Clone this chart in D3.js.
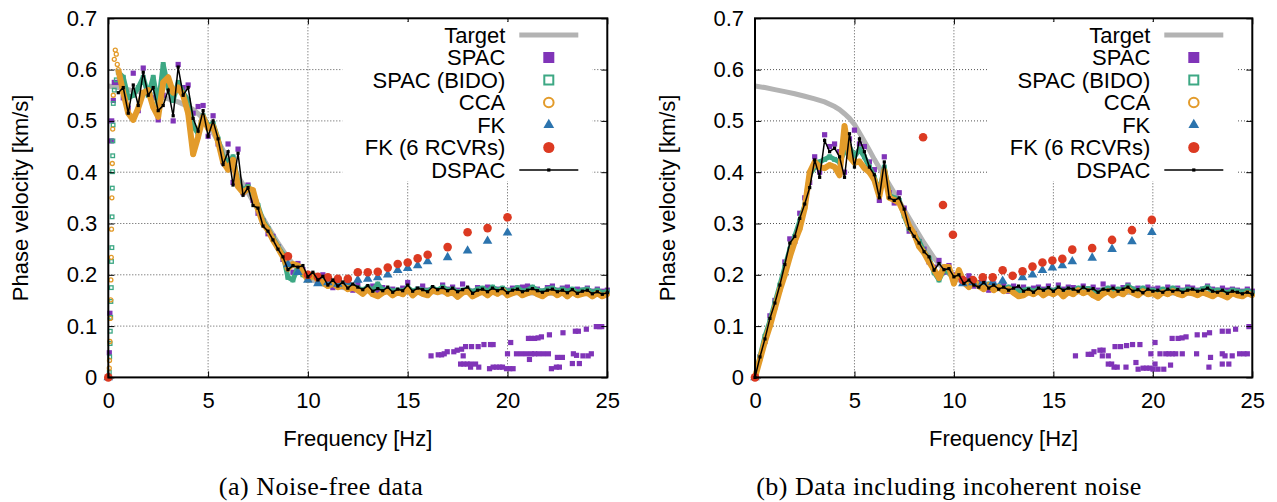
<!DOCTYPE html>
<html>
<head>
<meta charset="utf-8">
<script src="https://cdn.jsdelivr.net/npm/d3@7"></script>
<style>
  body { margin: 0; background: #fff; }
  svg { display: block; }
</style>
</head>
<body>
<svg id="chart" width="1277" height="502"></svg>
<script>
// frequency grid shared by the dense series [Hz]
const freqs = [
  0.5, 0.75, 1, 1.25, 1.5, 1.75, 2, 2.25, 2.5, 2.75,
  3, 3.25, 3.5, 3.75, 4, 4.25, 4.5, 4.75, 5, 5.25,
  5.5, 5.75, 6, 6.25, 6.5, 6.75, 7, 7.25, 7.5, 7.75,
  8, 8.25, 8.5, 8.75, 9, 9.25, 9.5, 9.75, 10, 10.25,
  10.5, 10.75, 11, 11.25, 11.5, 11.75, 12, 12.25, 12.5, 12.75,
  13, 13.25, 13.5, 13.75, 14, 14.25, 14.5, 14.75, 15, 15.25,
  15.5, 15.75, 16, 16.25, 16.5, 16.75, 17, 17.25, 17.5, 17.75,
  18, 18.25, 18.5, 18.75, 19, 19.25, 19.5, 19.75, 20, 20.25,
  20.5, 20.75, 21, 21.25, 21.5, 21.75, 22, 22.25, 22.5, 22.75,
  23, 23.25, 23.5, 23.75, 24, 24.25, 24.5, 24.75, 25
];

const xTicks = [0, 5, 10, 15, 20, 25];
const yTicks = [0, 0.1, 0.2, 0.3, 0.4, 0.5, 0.6, 0.7];
const legendLabels = ["Target", "SPAC", "SPAC (BIDO)", "CCA", "FK", "FK (6 RCVRs)", "DSPAC"];

// target dispersion curve (same in both panels)
const targetFreq = [0, 0.5, 1, 1.5, 2, 2.5, 3, 3.5, 4, 4.25, 4.5, 4.75, 5, 5.25, 5.5, 5.75, 6, 6.5, 7, 7.5,
  8, 8.5, 9, 9.5, 10, 10.5, 11, 12, 13, 14, 16, 18, 20, 22, 25];
const targetVel = [0.568, 0.565, 0.561, 0.557, 0.553, 0.548, 0.543, 0.537, 0.528, 0.522, 0.514, 0.505, 0.493,
  0.477, 0.46, 0.443, 0.425, 0.392, 0.36, 0.327, 0.294, 0.262, 0.233, 0.21, 0.195, 0.185, 0.179, 0.174, 0.171,
  0.169, 0.167, 0.166, 0.165, 0.164, 0.163];

// ---- (a) noise-free ----
const spacA = [
  0.575, 0.545, 0.525, 0.593, 0.52, 0.603, 0.56, 0.545, 0.502, 0.55,
  0.575, 0.50, 0.61, 0.565, 0.57, 0.515, 0.528, 0.53, 0.47, 0.51,
  0.455, 0.42, 0.455, 0.38, 0.445, 0.36, 0.375, 0.345, 0.32, 0.305,
  0.28, 0.275, 0.255, 0.23, 0.218, 0.205, 0.222, 0.21, 0.2, 0.198,
  0.185, 0.2, 0.185, 0.175, 0.19, 0.178, 0.18, 0.17, 0.182, 0.168,
  0.175, 0.178, 0.165, 0.175, 0.17, 0.172, 0.168, 0.174, 0.185, 0.165,
  0.172, 0.178, 0.17, 0.172, 0.168, 0.18, 0.172, 0.176, 0.17, 0.182,
  0.17, 0.168, 0.175, 0.17, 0.176, 0.17, 0.172, 0.168, 0.17, 0.174,
  0.168, 0.176, 0.178, 0.17, 0.172, 0.168, 0.175, 0.178, 0.17, 0.174,
  0.176, 0.168, 0.172, 0.17, 0.174, 0.168, 0.172, 0.168, 0.17
];
const bidoA = [
  0.595, 0.585, 0.545, 0.55, 0.565, 0.585, 0.55, 0.585, 0.53, 0.61,
  0.565, 0.54, 0.575, 0.555, 0.54, 0.49, 0.475, 0.51, 0.49, 0.495,
  0.465, 0.43, 0.42, 0.43, 0.38, 0.365, 0.372, 0.36, 0.335, 0.305,
  0.29, 0.272, 0.255, 0.24, 0.195, 0.19, 0.215, 0.2, 0.195, 0.2,
  0.192, 0.188, 0.182, 0.185, 0.18, 0.182, 0.176, 0.178, 0.174, 0.17,
  0.176, 0.17, 0.182, 0.17, 0.172, 0.168, 0.17, 0.168, 0.175, 0.168,
  0.172, 0.17, 0.168, 0.174, 0.17, 0.176, 0.17, 0.172, 0.166, 0.17,
  0.172, 0.167, 0.172, 0.174, 0.168, 0.176, 0.17, 0.174, 0.168, 0.17,
  0.175, 0.168, 0.17, 0.176, 0.17, 0.168, 0.172, 0.174, 0.168, 0.172,
  0.168, 0.172, 0.166, 0.17, 0.172, 0.166, 0.17, 0.165, 0.167
];
const ccaA = [
  0.60, 0.555, 0.515, 0.502, 0.525, 0.555, 0.56, 0.527, 0.508, 0.575,
  0.585, 0.555, 0.565, 0.55, 0.515, 0.435, 0.469, 0.508, 0.485, 0.49,
  0.46, 0.42, 0.405, 0.424, 0.372, 0.36, 0.368, 0.365, 0.328, 0.30,
  0.287, 0.268, 0.252, 0.235, 0.212, 0.221, 0.218, 0.205, 0.19, 0.2,
  0.19, 0.185, 0.178, 0.183, 0.176, 0.18, 0.172, 0.175, 0.17, 0.163,
  0.172, 0.162, 0.158, 0.165, 0.168, 0.16, 0.166, 0.162, 0.172, 0.16,
  0.168, 0.163, 0.16, 0.17, 0.166, 0.17, 0.163, 0.166, 0.157, 0.165,
  0.168, 0.158, 0.163, 0.167, 0.16, 0.168, 0.163, 0.17, 0.16, 0.164,
  0.168, 0.16, 0.164, 0.168, 0.162, 0.158, 0.165, 0.167, 0.16, 0.166,
  0.158, 0.166, 0.16, 0.163, 0.165, 0.158, 0.164, 0.158, 0.162
];
const dspacA = [
  0.555, 0.565, 0.515, 0.57, 0.53, 0.595, 0.55, 0.565, 0.52, 0.53,
  0.56, 0.51, 0.605, 0.55, 0.565, 0.505, 0.48, 0.52, 0.47, 0.50,
  0.465, 0.415, 0.44, 0.375, 0.437, 0.355, 0.37, 0.335, 0.33, 0.295,
  0.285, 0.268, 0.25, 0.235, 0.21, 0.218, 0.215, 0.218, 0.196, 0.205,
  0.19, 0.197, 0.18, 0.19, 0.178, 0.186, 0.174, 0.182, 0.176, 0.171,
  0.179, 0.168, 0.173, 0.169, 0.176, 0.166, 0.172, 0.169, 0.18, 0.168,
  0.174, 0.171, 0.167, 0.177, 0.171, 0.175, 0.169, 0.174, 0.167, 0.171,
  0.176, 0.164, 0.17, 0.172, 0.167, 0.174, 0.169, 0.173, 0.165, 0.17,
  0.172, 0.167, 0.17, 0.173, 0.169, 0.166, 0.17, 0.172, 0.167, 0.17,
  0.165, 0.171, 0.164, 0.168, 0.17, 0.163, 0.167, 0.162, 0.165
];
// low-frequency column of scattered estimates next to the axis [f, v]
const spacLowA = [[0.05, 0.048], [0.08, 0.125], [0.15, 0.461], [0.17, 0.5], [0.25, 0.54], [0.3, 0.575]];
const bidoLowA = [[0.05, 0.01], [0.07, 0.04], [0.09, 0.066], [0.1, 0.09], [0.12, 0.117], [0.13, 0.148],
  [0.15, 0.175], [0.16, 0.226], [0.18, 0.253], [0.19, 0.313], [0.2, 0.369], [0.21, 0.401], [0.22, 0.432],
  [0.23, 0.461], [0.24, 0.492], [0.25, 0.534], [0.3, 0.56], [0.4, 0.58]];
const ccaLowA = [[0.05, 0.018], [0.06, 0.033], [0.08, 0.07], [0.1, 0.115], [0.12, 0.151], [0.13, 0.19],
  [0.15, 0.234], [0.16, 0.289], [0.18, 0.35], [0.2, 0.417], [0.22, 0.484], [0.25, 0.55], [0.3, 0.62],
  [0.35, 0.638], [0.4, 0.63], [0.45, 0.61]];
const spacOutA = [
  [16.17, 0.042], [16.53, 0.044], [16.7, 0.044], [16.83, 0.046], [16.98, 0.05], [17.31, 0.05], [17.48, 0.053],
  [17.7, 0.055], [17.78, 0.042], [17.65, 0.026], [17.81, 0.026], [17.98, 0.026], [18.15, 0.026], [18.15, 0.02],
  [17.9, 0.06], [18.2, 0.06], [18.53, 0.06], [18.4, 0.026], [18.56, 0.02], [18.82, 0.064], [19.15, 0.064],
  [19.28, 0.064], [19.1, 0.017], [19.28, 0.02], [19.45, 0.02], [19.61, 0.02], [19.75, 0.02], [19.95, 0.017],
  [20.11, 0.017], [20.28, 0.017], [20.0, 0.046], [20.45, 0.046], [20.7, 0.046], [20.95, 0.046], [21.2, 0.046],
  [21.36, 0.046], [21.56, 0.046], [20.16, 0.068], [21.05, 0.076], [21.2, 0.076], [21.36, 0.076], [21.53, 0.077],
  [21.7, 0.079], [21.1, 0.035], [21.8, 0.046], [22.1, 0.083], [22.05, 0.046], [22.2, 0.017], [22.45, 0.02],
  [22.6, 0.02], [22.5, 0.039], [22.75, 0.039], [22.78, 0.087], [23.25, 0.027], [23.6, 0.027], [23.3, 0.046],
  [23.46, 0.043], [23.4, 0.09], [23.55, 0.09], [23.78, 0.042], [24.04, 0.042], [24.2, 0.046], [23.95, 0.094],
  [24.45, 0.099], [24.62, 0.099], [24.72, 0.099]
];
const fkFreqA = [0, 9, 9.5, 10, 10.5, 11, 11.5, 12, 12.5, 13, 13.5, 14, 14.5, 15, 15.5, 16, 17, 18, 19, 20];
const fkA = [0, 0.22, 0.205, 0.19, 0.183, 0.185, 0.182, 0.186, 0.19, 0.192, 0.195, 0.2, 0.209, 0.213, 0.218,
  0.226, 0.234, 0.247, 0.266, 0.282];
const fk6FreqA = [0, 9, 10, 10.5, 11, 11.5, 12, 12.5, 13, 13.5, 14, 14.5, 15, 15.5, 16, 17, 18, 19, 20];
const fk6A = [0, 0.236, 0.2, 0.196, 0.195, 0.192, 0.192, 0.205, 0.205, 0.206, 0.214, 0.221, 0.224, 0.232,
  0.239, 0.254, 0.283, 0.291, 0.312];

// ---- (b) with incoherent noise ----
const spacB = [
  0.07, 0.12, 0.15, 0.175, 0.225, 0.27, 0.265, 0.32, 0.35, 0.38,
  0.43, 0.40, 0.473, 0.45, 0.455, 0.44, 0.40, 0.465, 0.482, 0.455,
  0.45, 0.42, 0.405, 0.345, 0.43, 0.36, 0.34, 0.36, 0.33, 0.285,
  0.28, 0.265, 0.25, 0.225, 0.215, 0.228, 0.205, 0.218, 0.2, 0.195,
  0.19, 0.198, 0.178, 0.185, 0.188, 0.17, 0.182, 0.176, 0.18, 0.168,
  0.178, 0.172, 0.176, 0.17, 0.174, 0.176, 0.172, 0.178, 0.17, 0.18,
  0.172, 0.176, 0.175, 0.17, 0.178, 0.172, 0.176, 0.17, 0.182, 0.172,
  0.176, 0.17, 0.175, 0.18, 0.172, 0.174, 0.17, 0.176, 0.172, 0.174,
  0.17, 0.176, 0.17, 0.174, 0.17, 0.176, 0.174, 0.17, 0.172, 0.178,
  0.172, 0.17, 0.174, 0.17, 0.172, 0.17, 0.168, 0.172, 0.168
];
const bidoB = [
  0.08, 0.11, 0.145, 0.18, 0.215, 0.25, 0.275, 0.305, 0.335, 0.395,
  0.41, 0.42, 0.425, 0.43, 0.425, 0.42, 0.44, 0.45, 0.43, 0.445,
  0.43, 0.41, 0.39, 0.36, 0.41, 0.355, 0.35, 0.345, 0.315, 0.29,
  0.28, 0.265, 0.245, 0.232, 0.205, 0.19, 0.21, 0.205, 0.19, 0.205,
  0.19, 0.182, 0.188, 0.18, 0.176, 0.182, 0.174, 0.178, 0.172, 0.176,
  0.17, 0.168, 0.17, 0.172, 0.168, 0.172, 0.168, 0.172, 0.168, 0.174,
  0.166, 0.172, 0.168, 0.174, 0.17, 0.173, 0.168, 0.165, 0.17, 0.174,
  0.168, 0.172, 0.17, 0.178, 0.172, 0.168, 0.174, 0.168, 0.17, 0.166,
  0.172, 0.168, 0.174, 0.17, 0.168, 0.172, 0.17, 0.168, 0.172, 0.176,
  0.168, 0.17, 0.168, 0.165, 0.17, 0.168, 0.166, 0.169, 0.165
];
const ccaB = [
  0.07, 0.1, 0.135, 0.17, 0.2, 0.235, 0.265, 0.29, 0.33, 0.40,
  0.42, 0.41, 0.408, 0.414, 0.41, 0.394, 0.49, 0.43, 0.418, 0.421,
  0.408, 0.4, 0.385, 0.353, 0.403, 0.35, 0.346, 0.34, 0.32, 0.295,
  0.28, 0.255, 0.243, 0.225, 0.21, 0.194, 0.215, 0.215, 0.183, 0.209,
  0.185, 0.176, 0.19, 0.178, 0.172, 0.18, 0.17, 0.176, 0.168, 0.172,
  0.165, 0.158, 0.16, 0.166, 0.162, 0.168, 0.16, 0.166, 0.162, 0.168,
  0.158, 0.166, 0.162, 0.17, 0.164, 0.168, 0.16, 0.155, 0.163, 0.168,
  0.16, 0.166, 0.162, 0.172, 0.165, 0.16, 0.168, 0.162, 0.164, 0.158,
  0.166, 0.162, 0.168, 0.163, 0.16, 0.166, 0.164, 0.16, 0.166, 0.162,
  0.158, 0.164, 0.16, 0.156, 0.164, 0.16, 0.158, 0.164, 0.16
];
const dspacB = [
  0.075, 0.115, 0.145, 0.18, 0.22, 0.262, 0.275, 0.31, 0.338, 0.37,
  0.424, 0.39, 0.462, 0.44, 0.447, 0.43, 0.39, 0.475, 0.41, 0.465,
  0.44, 0.41, 0.395, 0.35, 0.42, 0.35, 0.345, 0.35, 0.328, 0.29,
  0.275, 0.262, 0.245, 0.235, 0.209, 0.222, 0.21, 0.212, 0.196, 0.2,
  0.183, 0.19, 0.18, 0.176, 0.185, 0.174, 0.18, 0.172, 0.176, 0.17,
  0.174, 0.178, 0.168, 0.172, 0.166, 0.174, 0.17, 0.175, 0.168, 0.176,
  0.17, 0.174, 0.172, 0.168, 0.176, 0.17, 0.173, 0.166, 0.172, 0.17,
  0.174, 0.168, 0.172, 0.176, 0.168, 0.171, 0.165, 0.172, 0.168, 0.17,
  0.166, 0.172, 0.168, 0.171, 0.166, 0.17, 0.172, 0.168, 0.17, 0.174,
  0.168, 0.166, 0.17, 0.164, 0.168, 0.166, 0.163, 0.166, 0.162
];
const spacLowB = [[0.25, 0.04]];
const bidoLowB = [[0, 0], [0.25, 0.04]];
const ccaLowB = [[0, 0], [0.25, 0.035]];
const dspacLowB = [[0, 0], [0.25, 0.04]];
const spacOutB = [
  [16.11, 0.042], [16.75, 0.045], [16.92, 0.045], [17.04, 0.05], [17.34, 0.053], [17.5, 0.053], [17.46, 0.042],
  [17.76, 0.042], [17.76, 0.026], [17.93, 0.026], [18.05, 0.02], [18.21, 0.02], [18.1, 0.06], [18.38, 0.06],
  [18.68, 0.062], [18.98, 0.064], [19.35, 0.064], [18.65, 0.02], [19.15, 0.029], [19.26, 0.016], [19.51, 0.018],
  [19.68, 0.018], [19.85, 0.018], [20.01, 0.016], [20.26, 0.016], [20.55, 0.016], [19.9, 0.046], [20.36, 0.046],
  [20.65, 0.046], [20.81, 0.046], [20.98, 0.046], [21.15, 0.046], [21.48, 0.046], [20.11, 0.068], [20.11, 0.026],
  [20.89, 0.024], [20.97, 0.076], [21.27, 0.076], [21.47, 0.077], [21.67, 0.079], [22.2, 0.046], [22.23, 0.083],
  [22.6, 0.083], [22.85, 0.087], [22.9, 0.039], [22.82, 0.02], [23.49, 0.046], [23.63, 0.042], [23.49, 0.026],
  [23.82, 0.026], [23.49, 0.09], [23.79, 0.09], [24.16, 0.094], [23.99, 0.042], [24.36, 0.046], [24.58, 0.046],
  [24.75, 0.046], [24.83, 0.099]
];
const fkFreqB = [0, 10.45, 10.95, 11.45, 11.95, 12.45, 13.45, 13.95, 14.45, 14.95, 15.45, 15.95, 16.95, 17.95, 18.95, 19.95];
const fkB = [0, 0.183, 0.185, 0.186, 0.185, 0.188, 0.195, 0.2, 0.209, 0.214, 0.218, 0.226, 0.233, 0.25, 0.265, 0.283];
const fk6FreqB = [0, 8.45, 9.45, 9.95, 10.45, 10.95, 11.45, 11.95, 12.45, 12.95, 13.45, 13.95, 14.45, 14.95,
  15.45, 15.95, 16.95, 17.95, 18.95, 19.95];
const fk6B = [0, 0.468, 0.336, 0.278, 0.19, 0.19, 0.195, 0.195, 0.209, 0.198, 0.207, 0.216, 0.224, 0.228,
  0.231, 0.249, 0.252, 0.268, 0.287, 0.307];

const colors = {
  target: "#b3b3b3", spac: "#8034b8", bido: "#3da884", cca: "#e39b2a",
  fk: "#2c74ae", fk6: "#dc3a22", dspac: "#000"
};
const sansFont = "'Liberation Sans', Arial, Helvetica, sans-serif";
const plotTop = 18.3, plotBottom = 377.4;

const svg = d3.select("#chart");
const zip = (fs, vs) => fs.map((f, i) => [f, vs[i]]);

const panels = [
  {
    id: "a", left: 108.3, right: 607.3, caption: "(a) Noise-free data", captionX: 321,
    spac: spacLowA.concat(zip(freqs, spacA), spacOutA),
    bidoPts: bidoLowA.concat(zip(freqs, bidoA)), bidoBand: zip(freqs, bidoA),
    ccaPts: ccaLowA.concat(zip(freqs, ccaA)), ccaBand: zip(freqs, ccaA),
    dspac: zip(freqs, dspacA),
    fk: zip(fkFreqA, fkA), fk6: zip(fk6FreqA, fk6A)
  },
  {
    id: "b", left: 755, right: 1252.3, caption: "(b) Data including incoherent noise", captionX: 949,
    spac: spacLowB.concat(zip(freqs, spacB), spacOutB),
    bidoPts: bidoLowB.concat(zip(freqs, bidoB)), bidoBand: bidoLowB.concat(zip(freqs, bidoB)),
    ccaPts: ccaLowB.concat(zip(freqs, ccaB)), ccaBand: ccaLowB.concat(zip(freqs, ccaB)),
    dspac: dspacLowB.concat(zip(freqs, dspacB)),
    fk: zip(fkFreqB, fkB), fk6: zip(fk6FreqB, fk6B)
  }
];

function drawPanel(p) {
  const x = d3.scaleLinear().domain([0, 25]).range([p.left, p.right]);
  const y = d3.scaleLinear().domain([0, 0.7]).range([plotBottom, plotTop]);
  const g = svg.append("g").attr("class", "panel-" + p.id);
  const line = d3.line().x(d => x(d[0])).y(d => y(d[1]));

  // dotted grid
  g.append("g").selectAll("line").data(xTicks.filter(t => t > 0 && t < 25)).join("line")
    .attr("x1", d => x(d)).attr("x2", d => x(d)).attr("y1", plotTop).attr("y2", plotBottom)
    .attr("stroke", "#555").attr("stroke-width", 1).attr("stroke-dasharray", "1,2");
  g.append("g").selectAll("line").data(yTicks.filter(t => t > 0 && t < 0.7)).join("line")
    .attr("x1", p.left).attr("x2", p.right).attr("y1", d => y(d)).attr("y2", d => y(d))
    .attr("stroke", "#555").attr("stroke-width", 1).attr("stroke-dasharray", "1,2");

  // Target
  g.append("path").datum(zip(targetFreq, targetVel))
    .attr("fill", "none").attr("stroke", colors.target).attr("stroke-width", 5)
    .attr("d", line);

  // SPAC
  g.append("g").selectAll("rect").data(p.spac).join("rect")
    .attr("x", d => x(d[0]) - 2.6).attr("y", d => y(d[1]) - 2.6)
    .attr("width", 5.2).attr("height", 5.2).attr("fill", colors.spac);

  // SPAC (BIDO)
  g.append("path").datum(p.bidoBand)
    .attr("fill", "none").attr("stroke", colors.bido).attr("stroke-width", 5)
    .attr("stroke-linejoin", "round").attr("d", line);
  g.append("g").selectAll("rect").data(p.bidoPts).join("rect")
    .attr("x", d => x(d[0]) - 1.8).attr("y", d => y(d[1]) - 1.8)
    .attr("width", 3.6).attr("height", 3.6)
    .attr("fill", "none").attr("stroke", colors.bido).attr("stroke-width", 1.3);

  // CCA
  g.append("path").datum(p.ccaBand)
    .attr("fill", "none").attr("stroke", colors.cca).attr("stroke-width", 6)
    .attr("stroke-linejoin", "round").attr("d", line);
  g.append("g").selectAll("circle").data(p.ccaPts).join("circle")
    .attr("cx", d => x(d[0])).attr("cy", d => y(d[1])).attr("r", 2)
    .attr("fill", "none").attr("stroke", colors.cca).attr("stroke-width", 1.3);

  // FK
  g.append("g").selectAll("path").data(p.fk).join("path")
    .attr("transform", d => `translate(${x(d[0])},${y(d[1])})`)
    .attr("d", d3.symbol(d3.symbolTriangle, 40))
    .attr("fill", colors.fk);

  // FK (6 RCVRs)
  g.append("g").selectAll("circle").data(p.fk6).join("circle")
    .attr("cx", d => x(d[0])).attr("cy", d => y(d[1])).attr("r", 4.3)
    .attr("fill", colors.fk6);

  // DSPAC
  g.append("path").datum(p.dspac)
    .attr("fill", "none").attr("stroke", colors.dspac).attr("stroke-width", 1.5)
    .attr("d", line);
  g.append("g").selectAll("rect").data(p.dspac).join("rect")
    .attr("x", d => x(d[0]) - 1.6).attr("y", d => y(d[1]) - 1.6)
    .attr("width", 3.2).attr("height", 3.2).attr("fill", colors.dspac);

  // axes with inward ticks (mirrored on top/right)
  const styleAxis = a => {
    a.select(".domain").remove();
    a.attr("font-size", 22).attr("font-family", sansFont);
    a.selectAll("text").attr("fill", "#000");
  };
  g.append("g").attr("transform", `translate(0,${plotBottom})`)
    .call(d3.axisBottom(x).tickValues(xTicks).tickSize(-6).tickPadding(15).tickFormat(d3.format("d")))
    .call(styleAxis);
  g.append("g").attr("transform", `translate(${p.left},0)`)
    .call(d3.axisLeft(y).tickValues(yTicks).tickSize(-6).tickPadding(11)
      .tickFormat(d => d === 0 ? "0" : d3.format(".1f")(d)))
    .call(styleAxis);
  g.append("g").attr("transform", `translate(0,${plotTop})`)
    .call(d3.axisTop(x).tickValues(xTicks).tickSize(-6).tickFormat(""))
    .call(styleAxis);
  g.append("g").attr("transform", `translate(${p.right},0)`)
    .call(d3.axisRight(y).tickValues(yTicks).tickSize(-6).tickFormat(""))
    .call(styleAxis);

  g.append("rect")
    .attr("x", p.left).attr("y", plotTop)
    .attr("width", p.right - p.left).attr("height", plotBottom - plotTop)
    .attr("fill", "none").attr("stroke", "#000").attr("stroke-width", 2);

  // axis titles
  g.append("text")
    .attr("transform", `translate(${p.left - 80},${(plotTop + plotBottom) / 2}) rotate(-90)`)
    .attr("text-anchor", "middle").attr("font-family", sansFont).attr("font-size", 22)
    .text("Phase velocity [km/s]");
  g.append("text")
    .attr("x", (p.left + p.right) / 2).attr("y", 446)
    .attr("text-anchor", "middle").attr("font-family", sansFont).attr("font-size", 22)
    .text("Frequency [Hz]");

  // caption
  g.append("text")
    .attr("x", p.captionX).attr("y", 495)
    .attr("text-anchor", "middle").attr("font-family", "'Liberation Serif', 'Times New Roman', serif")
    .attr("font-size", 26).attr("letter-spacing", 0.5)
    .text(p.caption);

  // opaque key
  const key = g.append("g");
  key.append("rect")
    .attr("x", p.right - 265).attr("y", 22).attr("width", 250).attr("height", 159)
    .attr("fill", "#fff");
  const sx = p.right - 58.5, lx0 = p.right - 88, lx1 = p.right - 29;
  legendLabels.forEach((lab, i) => {
    const ry = 35 + i * 22.5;
    key.append("text")
      .attr("x", p.right - 102).attr("y", ry).attr("dy", "0.35em")
      .attr("text-anchor", "end").attr("font-family", sansFont).attr("font-size", 22)
      .text(lab);
    if (i === 0) {
      key.append("line").attr("x1", lx0).attr("x2", lx1).attr("y1", ry).attr("y2", ry)
        .attr("stroke", colors.target).attr("stroke-width", 5);
    } else if (i === 1) {
      key.append("rect").attr("x", sx - 5.5).attr("y", ry - 5.5).attr("width", 11).attr("height", 11)
        .attr("fill", colors.spac);
    } else if (i === 2) {
      key.append("rect").attr("x", sx - 4.5).attr("y", ry - 4.5).attr("width", 9).attr("height", 9)
        .attr("fill", "none").attr("stroke", colors.bido).attr("stroke-width", 2);
    } else if (i === 3) {
      key.append("circle").attr("cx", sx).attr("cy", ry).attr("r", 4.8)
        .attr("fill", "none").attr("stroke", colors.cca).attr("stroke-width", 2);
    } else if (i === 4) {
      key.append("path").attr("transform", `translate(${sx},${ry})`)
        .attr("d", d3.symbol(d3.symbolTriangle, 50)).attr("fill", colors.fk);
    } else if (i === 5) {
      key.append("circle").attr("cx", sx).attr("cy", ry).attr("r", 5.6).attr("fill", colors.fk6);
    } else {
      key.append("line").attr("x1", lx0).attr("x2", lx1).attr("y1", ry).attr("y2", ry)
        .attr("stroke", colors.dspac).attr("stroke-width", 1.5);
      key.append("rect").attr("x", sx - 1.6).attr("y", ry - 1.6).attr("width", 3.2).attr("height", 3.2)
        .attr("fill", colors.dspac);
    }
  });
}

panels.forEach(drawPanel);
</script>
</body>
</html>
